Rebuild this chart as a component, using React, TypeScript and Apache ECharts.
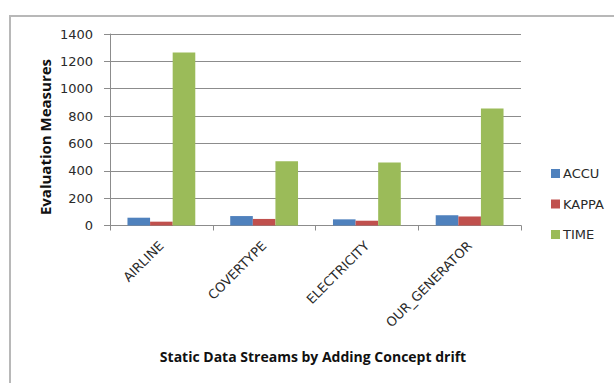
import React, { useEffect, useRef } from "react";
import * as echarts from "echarts";

const categories = ["AIRLINE", "COVERTYPE", "ELECTRICITY", "OUR_GENERATOR"];
const accu = [57, 69, 45, 75];
const kappa = [28, 48, 35, 66];
const time = [1265, 470, 460, 855];
const seriesNames = ["ACCU", "KAPPA", "TIME"];
const yTitle = "Evaluation Measures";
const xTitle = "Static Data Streams by Adding Concept drift";

export default function App() {
  const ref = useRef<HTMLDivElement>(null);
  useEffect(() => {
    if (!ref.current) return;
    const chart = echarts.init(ref.current, undefined, { renderer: "svg" });
    const tickFont = { fontFamily: "DejaVu Sans", fontSize: 13, color: "#2a2a2a" };
    chart.setOption({
      animation: false,
      backgroundColor: "#ffffff",
      color: ["#4F81BD", "#C0504D", "#9BBB59"],
      graphic: [
        {
          type: "rect",
          shape: { x: 10, y: 16, width: 700, height: 500 },
          style: { fill: "none", stroke: "#b8b8b8", lineWidth: 2 },
          z: -10,
        },
        {
          type: "text",
          x: 45,
          y: 137,
          rotation: Math.PI / 2,
          style: {
            text: yTitle,
            fontFamily: "Open Sans",
            fontWeight: "bold",
            fontSize: 15,
            fill: "#111",
            align: "center",
            verticalAlign: "middle",
          },
        },
        {
          type: "text",
          x: 313,
          y: 356,
          style: {
            text: xTitle,
            fontFamily: "Open Sans",
            fontWeight: "bold",
            fontSize: 14,
            fill: "#111",
            align: "center",
            verticalAlign: "middle",
          },
        },
      ],
      legend: {
        orient: "vertical",
        left: 546,
        top: 162,
        itemWidth: 9,
        itemHeight: 9,
        itemGap: 17.5,
        icon: "rect",
        data: seriesNames,
        textStyle: { fontFamily: "DejaVu Sans", fontSize: 13, color: "#2a2a2a", padding: [0, 0, 0, -2] },
      },
      grid: { left: 110, right: 93, top: 34, bottom: 157.5 },
      xAxis: {
        type: "category",
        data: categories,
        axisLine: { lineStyle: { color: "#8c8c8c", width: 1 } },
        axisTick: { show: true, length: 5, inside: false, alignWithLabel: false, lineStyle: { color: "#8c8c8c" } },
        axisLabel: { ...tickFont, rotate: 45, margin: 18, interval: 0 },
      },
      yAxis: {
        type: "value",
        min: 0,
        max: 1400,
        interval: 200,
        axisLine: { show: true, lineStyle: { color: "#8c8c8c", width: 1 } },
        axisTick: { show: true, length: 6, lineStyle: { color: "#8c8c8c" } },
        axisLabel: { ...tickFont, margin: 17, formatter: (v: number) => String(v) },
        splitLine: { lineStyle: { color: "#8c8c8c", width: 1 } },
      },
      series: [
        { name: seriesNames[0], type: "bar", data: accu, barGap: "0%", barCategoryGap: "34%" },
        { name: seriesNames[1], type: "bar", data: kappa, barGap: "0%", barCategoryGap: "34%" },
        { name: seriesNames[2], type: "bar", data: time, barGap: "0%", barCategoryGap: "34%" },
      ],
    });
    return () => chart.dispose();
  }, []);
  return <div ref={ref} style={{ width: 614, height: 383, position: "absolute", left: 0, top: 0 }} />;
}
